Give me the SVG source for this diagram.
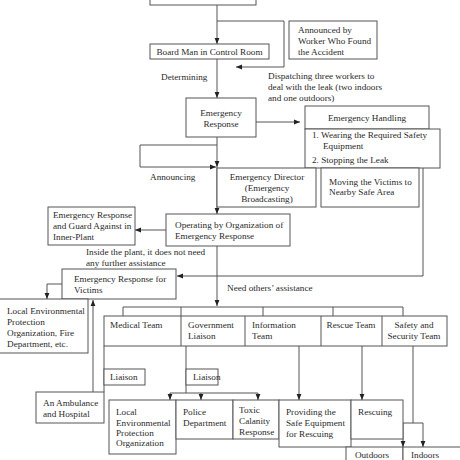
<svg xmlns="http://www.w3.org/2000/svg" width="460" height="460" viewBox="0 0 460 460">
<defs>
<marker id="ah" viewBox="0 0 10 10" refX="10" refY="5" markerWidth="6" markerHeight="6" markerUnits="userSpaceOnUse" orient="auto">
<path d="M0,1 L10,5 L0,9 z" fill="#222"/>
</marker>
<style>
rect{fill:#fff;stroke:#555;stroke-width:1}
text{font-family:"Liberation Serif","Times New Roman",serif;font-size:9.2px;fill:#2a2a2a}
.c{text-anchor:middle}
.ln{fill:none;stroke:#555;stroke-width:1}
.ar{fill:none;stroke:#555;stroke-width:1;marker-end:url(#ah)}
</style>
</defs>
<rect x="0" y="0" width="460" height="460" style="fill:#fff;stroke:none"/>

<g id="connectors">
<path class="ar" d="M217,5 V44"/>
<path class="ln" d="M217,21 H284 V67"/>
<path class="ar" d="M284,67 H236"/>
<path class="ar" d="M217,59 V98"/>
<path class="ar" d="M256,122 H300"/>
<path class="ar" d="M217,137 V167"/>
<path class="ln" d="M217,145 H140 V167"/>
<path class="ar" d="M140,167 H216"/>
<path class="ar" d="M217,167 V214"/>
<path class="ar" d="M166,230 H135"/>
<path class="ln" d="M423,168 V276"/>
<path class="ar" d="M423,276 H177"/>
<path class="ln" d="M62,284 H47"/>
<path class="ar" d="M47,284 V299"/>
<path class="ar" d="M93,392 V300"/>
<path class="ar" d="M217,246 V306"/>
<path class="ln" d="M123,316 V307 H403 V316 M263,307 V316 M333,307 V316"/>
<path class="ln" d="M104,346 V392"/>
<path class="ln" d="M186,346 V393"/>
<path class="ln" d="M170,393 H258"/>
<path class="ar" d="M170,393 V400"/>
<path class="ar" d="M201,393 V400"/>
<path class="ar" d="M258,393 V400"/>
<path class="ar" d="M299,346 V400"/>
<path class="ar" d="M362,346 V400"/>
<path class="ln" d="M413,346 V423 M403,423 H423"/>
<path class="ar" d="M403,423 V447"/>
<path class="ar" d="M423,423 V447"/>
</g>

<g id="start"><rect x="150" y="-20" width="106" height="25"/></g>
<g id="board-man"><rect x="150" y="44" width="119" height="15"/><text class="c" x="209.5" y="55">Board Man in Control Room</text></g>
<g id="announced"><rect x="289" y="21" width="88" height="38"/>
<text x="298" y="33">Announced by</text><text x="298" y="44">Worker Who Found</text><text x="298" y="55">the Accident</text></g>
<text x="161" y="80">Determining</text>
<text x="268" y="79">Dispatching three workers to</text>
<text x="268" y="90">deal with the leak (two indoors</text>
<text x="268" y="101">and one outdoors)</text>
<g id="emergency-response"><rect x="186" y="98" width="70" height="39"/>
<text class="c" x="221" y="116">Emergency</text><text class="c" x="221" y="127">Response</text></g>
<g id="emergency-handling"><rect x="305" y="106" width="124" height="23"/><text class="c" x="367" y="121">Emergency Handling</text></g>
<g id="handling-steps"><rect x="305" y="129" width="135" height="39"/>
<text x="312" y="138">1. Wearing the Required Safety</text><text x="323" y="149">Equipment</text><text x="312" y="163">2. Stopping the Leak</text></g>
<text x="150" y="180">Announcing</text>
<g id="director"><rect x="217" y="168" width="99" height="39"/>
<text class="c" x="267" y="180">Emergency Director</text><text class="c" x="267" y="191">(Emergency</text><text class="c" x="267" y="202">Broadcasting)</text></g>
<g id="moving"><rect x="321" y="168" width="98" height="39"/>
<text x="329" y="185">Moving the Victims to</text><text x="329" y="195">Nearby Safe Area</text></g>
<g id="operating"><rect x="166" y="214" width="124" height="32"/>
<text x="175" y="228">Operating by Organization of</text><text x="175" y="239">Emergency Response</text></g>
<g id="inner-plant"><rect x="48" y="207" width="87" height="38"/>
<text x="53" y="218">Emergency Response</text><text x="53" y="229">and Guard Against in</text><text x="53" y="240">Inner-Plant</text></g>
<text x="86" y="255">Inside the plant, it does not need</text>
<text x="86" y="266">any further assistance</text>
<g id="victims"><rect x="62" y="269" width="114" height="30"/>
<text x="74" y="282">Emergency Response for</text><text x="74" y="293">Victims</text></g>
<g id="local-env-fire"><rect x="-2" y="299" width="90" height="54"/>
<text x="7" y="314">Local Environmental</text><text x="7" y="325">Protection</text><text x="7" y="336">Organization, Fire</text><text x="7" y="347">Department, etc.</text></g>
<text x="227" y="291">Need others’ assistance</text>
<g id="teams"><rect x="104" y="316" width="343" height="30"/>
<path class="ln" d="M181,307 V346 M245,316 V346 M321,316 V346 M382,316 V346"/>
<text x="110" y="328">Medical Team</text>
<text x="188" y="328">Government</text><text x="188" y="339">Liaison</text>
<text x="252" y="328">Information</text><text x="252" y="339">Team</text>
<text class="c" x="351" y="328">Rescue Team</text>
<text class="c" x="414" y="328">Safety and</text><text class="c" x="414" y="339">Security Team</text></g>
<g id="liaison1"><rect x="104" y="369" width="41" height="16"/><text x="110" y="380">Liaison</text></g>
<g id="liaison2"><rect x="186" y="369" width="32" height="16"/><text x="193" y="380">Liaison</text></g>
<g id="ambulance"><rect x="36" y="392" width="68" height="31"/>
<text x="43" y="406">An Ambulance</text><text x="43" y="417">and Hospital</text></g>
<g id="local-env"><rect x="109" y="400" width="67" height="54"/>
<text x="116" y="415">Local</text><text x="116" y="426">Environmental</text><text x="116" y="436">Protection</text><text x="116" y="446">Organization</text></g>
<g id="police"><rect x="176" y="400" width="57" height="39"/>
<text x="183" y="415">Police</text><text x="183" y="426">Department</text></g>
<g id="toxic"><rect x="233" y="400" width="46" height="39"/>
<text x="239" y="413">Toxic</text><text x="239" y="424">Calanity</text><text x="239" y="435">Response</text></g>
<g id="providing"><rect x="279" y="400" width="72" height="47"/>
<text x="286" y="415">Providing the</text><text x="286" y="426">Safe Equipment</text><text x="286" y="437">for Rescuing</text></g>
<g id="rescuing"><rect x="351" y="400" width="52" height="39"/><text x="358" y="415">Rescuing</text></g>
<g id="outdoors"><rect x="346" y="447" width="57" height="20"/><text class="c" x="372" y="458">Outdoors</text></g>
<g id="indoors"><rect x="403" y="447" width="60" height="20"/><text x="411" y="458">Indoors</text></g>
</svg>
